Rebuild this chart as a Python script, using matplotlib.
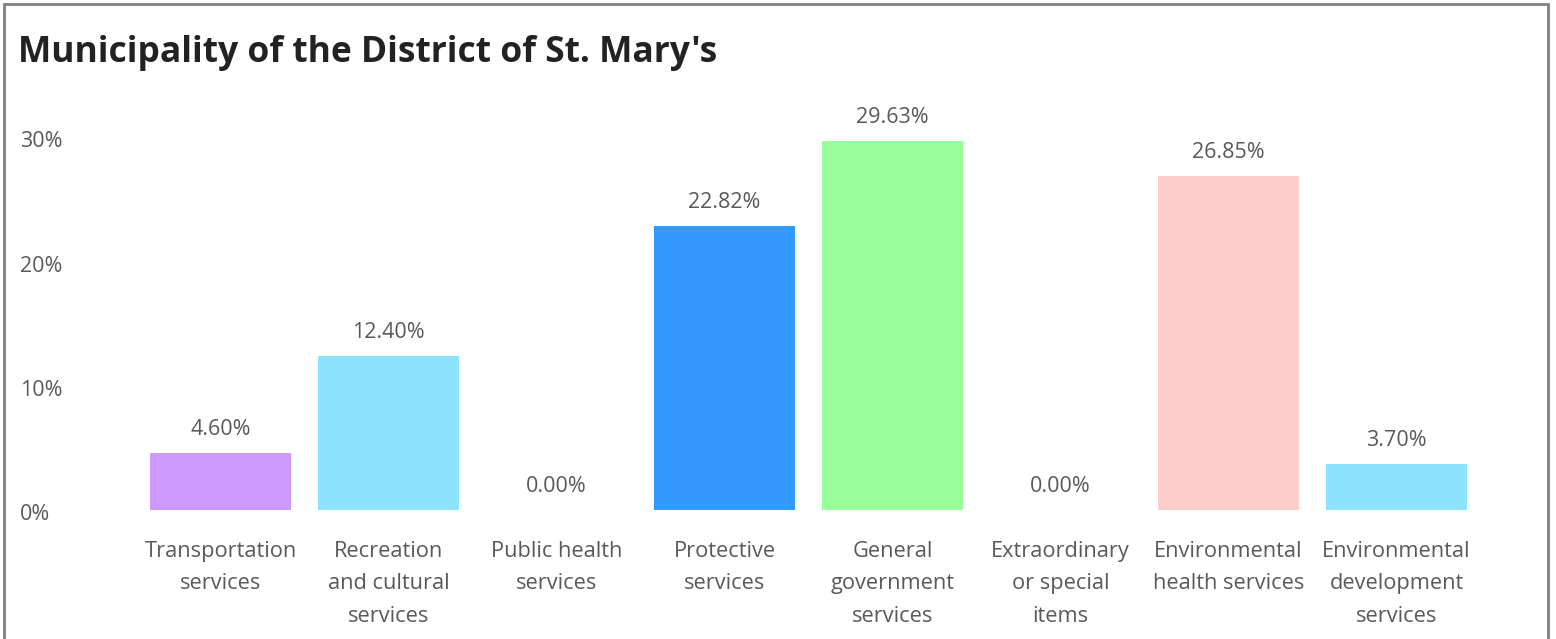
import matplotlib
matplotlib.use("Agg")
import matplotlib.pyplot as plt
import matplotlib.transforms as mtrans
from matplotlib.patches import Rectangle

categories = ["Transportation\nservices", "Recreation\nand cultural\nservices",
              "Public health\nservices", "Protective\nservices",
              "General\ngovernment\nservices", "Extraordinary\nor special\nitems",
              "Environmental\nhealth services", "Environmental\ndevelopment\nservices"]
values = [4.60, 12.40, 0.00, 22.82, 29.63, 0.00, 26.85, 3.70]
colors = ["#CC99FF", "#8DE3FD", "#8DE3FD", "#3399FF", "#99FF99", "#8DE3FD", "#FFCCCC", "#8DE3FD"]
yticks = [0, 10, 20, 30]
title = "Municipality of the District of St. Mary's"

plt.rcParams['font.family'] = ['Open Sans', 'DejaVu Sans']
W, H = 1556, 639
fig = plt.figure(figsize=(W/100, H/100), dpi=100)

# border
fig.patches.append(Rectangle((4/W, -0.1), (1548-4)/W, (H-4)/H + 0.1, transform=fig.transFigure,
                             fill=False, edgecolor="#808080", linewidth=2))

x0, x1 = 136.5, 1480.5
y0, y1 = 510, 136.5
ax = fig.add_axes([x0/W, 1 - y0/H, (x1-x0)/W, (y0-y1)/H])
xs = list(range(len(values)))
ax.bar(xs, values, width=0.84, color=colors)
ax.set_xlim(-0.5, len(values) - 0.5)
ax.set_ylim(0, 30)
for s in ax.spines.values():
    s.set_visible(False)
ax.set_xticks(xs)
ax.set_xticklabels(categories, fontsize=15.7, color="#595959", linespacing=1.72, va="top")
ax.tick_params(axis="x", length=0, pad=22)
ax.set_yticks(yticks)
ax.set_yticklabels([f"{t}%" for t in yticks], fontsize=15.5, color="#595959", ha="left")
ax.tick_params(axis="y", length=0, pad=(x0 - 20) * 0.72)
shift = mtrans.ScaledTranslation(0, -2.5/100, fig.dpi_scale_trans)
for lbl in ax.get_yticklabels():
    lbl.set_transform(lbl.get_transform() + shift)
for x, v in zip(xs, values):
    ax.annotate(f"{v:.2f}%", (x, v), xytext=(0, 13), textcoords="offset pixels",
                ha="center", va="bottom", fontsize=15.5, color="#595959", annotation_clip=False)

fig.text(18/W, 1 - 62/H, title, fontsize=25.5, fontweight="bold", color="#222222", ha="left", va="baseline")

fig.savefig("out.png", dpi=100)
